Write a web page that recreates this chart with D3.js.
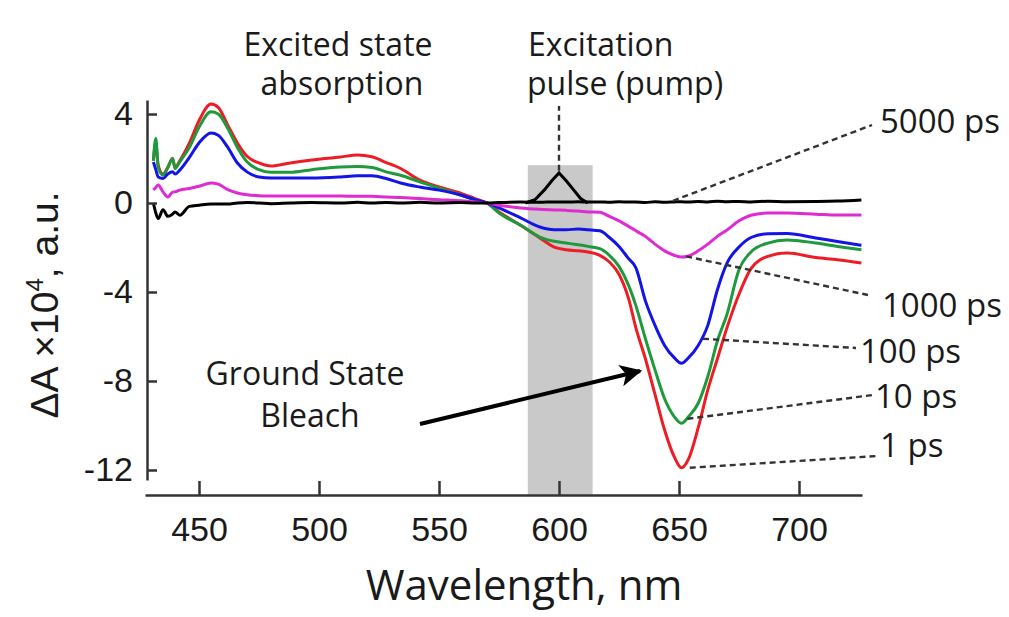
<!DOCTYPE html>
<html>
<head>
<meta charset="utf-8">
<script src="https://d3js.org/d3.v7.min.js"></script>
<style>
  body { margin: 0; background: #fff; }
  .tick text { fill: #1a1a1a; font-family: "Liberation Sans", Arial, sans-serif; }
  .note { fill: #1a1a1a; font-family: "Open Sans", "Noto Sans", sans-serif; }
</style>
</head>
<body>
<div id="chart"></div>
<script>
// wavelength grid (nm) shared by all transient spectra
var wavelengths = [431, 432, 433, 435, 437, 439, 440, 442, 446, 450, 455, 458, 462, 466, 470, 475, 480, 488, 497, 509,
  516, 522, 528, 534, 542, 550, 559, 565, 570, 575, 584, 592, 598, 603, 608, 612, 617, 621, 625, 629,
  632, 636, 640, 644, 648, 651, 654, 658, 662, 666, 670, 675, 680, 687, 695, 707, 716, 726];

// delta A x 10^4 for each delay
var ps1 = [1.9, 2.7, 1.7, 1.3, 1.6, 2.0, 1.6, 1.9, 2.7, 3.7, 4.45, 4.3, 3.5, 2.7, 2.1, 1.8, 1.66, 1.8, 1.93, 2.07,
  2.16, 2.08, 1.82, 1.55, 1.03, 0.72, 0.44, 0.2, 0.0, -0.4, -1.0, -1.57, -1.98, -2.1, -2.15, -2.2, -2.35, -2.65, -3.2, -4.3,
  -5.6, -7.0, -8.6, -10.2, -11.4, -11.9, -11.5, -10.1, -8.4, -7.0, -5.6, -4.1, -2.95, -2.4, -2.25, -2.45, -2.55, -2.7];
var ps10 = [1.9, 2.9, 1.6, 1.25, 1.6, 2.0, 1.55, 1.85, 2.5, 3.4, 4.1, 4.0, 3.35, 2.5, 1.85, 1.5, 1.38, 1.38, 1.5, 1.62,
  1.64, 1.6, 1.4, 1.25, 0.95, 0.67, 0.36, 0.15, 0.0, -0.45, -1.0, -1.53, -1.72, -1.8, -1.88, -1.95, -2.05, -2.35, -2.85, -3.7,
  -4.6, -6.1, -7.5, -8.8, -9.6, -9.9, -9.6, -9.0, -7.8, -6.2, -5.0, -3.0, -2.2, -1.8, -1.66, -1.8, -1.95, -2.1];
var ps100 = [1.84, 1.5, 1.17, 1.1, 1.3, 1.4, 1.3, 1.48, 2.05, 2.7, 3.15, 3.05, 2.5, 1.8, 1.4, 1.17, 1.12, 1.12, 1.12, 1.17,
  1.22, 1.22, 1.1, 0.9, 0.72, 0.58, 0.36, 0.15, 0.0, -0.22, -0.67, -1.08, -1.2, -1.2, -1.17, -1.2, -1.25, -1.55, -1.95, -2.5,
  -2.9, -4.4, -5.5, -6.4, -6.95, -7.2, -6.95, -6.4, -5.5, -3.9, -2.7, -1.98, -1.55, -1.38, -1.37, -1.57, -1.73, -1.9];
var ps1000 = [0.58, 0.7, 0.81, 0.5, 0.27, 0.49, 0.5, 0.58, 0.65, 0.75, 0.9, 0.85, 0.6, 0.45, 0.37, 0.33, 0.31, 0.31, 0.31, 0.31,
  0.3, 0.3, 0.27, 0.25, 0.2, 0.15, 0.1, 0.05, 0.0, -0.1, -0.22, -0.28, -0.31, -0.33, -0.36, -0.4, -0.42, -0.6, -0.8, -1.05,
  -1.25, -1.5, -1.85, -2.15, -2.35, -2.43, -2.38, -2.15, -1.85, -1.5, -1.21, -0.8, -0.55, -0.45, -0.45, -0.5, -0.54, -0.54];
var ps5000 = [0.0, -0.45, -0.7, -0.3, -0.6, -0.5, -0.4, -0.55, -0.15, -0.1, -0.05, -0.05, -0.05, 0.0, 0.02, 0.0, -0.03, 0.0, 0.02, 0.0,
  0.03, 0.0, 0.02, 0.0, 0.03, 0.0, 0.02, 0.0, 0.0, 0.02, 0.04, 0.03, 0.05, 0.04, 0.06, 0.04, 0.05, 0.03, 0.06, 0.04,
  0.05, 0.02, 0.06, 0.03, 0.05, 0.06, 0.04, 0.07, 0.05, 0.08, 0.06, 0.07, 0.05, 0.08, 0.06, 0.07, 0.09, 0.14];

// pump pulse spectrum and its band
var pumpWl = [586, 590, 594, 597, 600, 603, 606, 609, 612];
var pumpVal = [0, 0.15, 0.6, 1.0, 1.35, 1.0, 0.6, 0.2, 0];
var pumpBand = [587, 614];
var pumpBandTop = 1.7;

var xTicks = [450, 500, 550, 600, 650, 700];
var yTicks = [4, 0, -4, -8, -12];

var series = [
  { name: "1 ps", values: ps1, color: "#ee1c24" },
  { name: "10 ps", values: ps10, color: "#1e9a3c" },
  { name: "100 ps", values: ps100, color: "#1414e6" },
  { name: "1000 ps", values: ps1000, color: "#e02ad2" },
  { name: "5000 ps", values: ps5000, color: "#000000" }
];

var W = 1009, H = 617;
var svg = d3.select("#chart").append("svg")
  .attr("width", W).attr("height", H);

var x = d3.scaleLinear().domain([427.5, 726.25]).range([145, 862]);
var y = d3.scaleLinear().domain([-12.45, 4.63]).range([480, 100]);

// pump band
svg.append("rect")
  .attr("x", x(pumpBand[0]))
  .attr("y", y(pumpBandTop))
  .attr("width", x(pumpBand[1]) - x(pumpBand[0]))
  .attr("height", 495 - y(pumpBandTop))
  .attr("fill", "#c9c9c9");

var line = d3.line()
  .x(function(d) { return x(d[0]); })
  .y(function(d) { return y(d[1]); })
  .curve(d3.curveMonotoneX);

series.forEach(function(s) {
  svg.append("path")
    .datum(wavelengths.map(function(w, i) { return [w, s.values[i]]; }))
    .attr("d", line)
    .attr("fill", "none")
    .attr("stroke", s.color)
    .attr("stroke-width", 3)
    .attr("stroke-linejoin", "round");
});

svg.append("path")
  .datum(pumpWl.map(function(w, i) { return [w, pumpVal[i]]; }))
  .attr("d", d3.line().x(function(d) { return x(d[0]); }).y(function(d) { return y(d[1]); }))
  .attr("fill", "none")
  .attr("stroke", "#000")
  .attr("stroke-width", 3);

// axes (detached, ticks inward)
var yAxis = svg.append("g")
  .attr("transform", "translate(147,0)")
  .call(d3.axisLeft(y).tickValues(yTicks).tickSize(-10).tickSizeOuter(0).tickPadding(14)
    .tickFormat(function(d) { return d; }));
var xAxis = svg.append("g")
  .attr("transform", "translate(0,495)")
  .call(d3.axisBottom(x).tickValues(xTicks).tickSize(-14).tickSizeOuter(0).tickPadding(22));

[yAxis, xAxis].forEach(function(g) {
  g.select(".domain").attr("stroke", "#333").attr("stroke-width", 2.5);
  g.selectAll(".tick line").attr("stroke", "#333").attr("stroke-width", 2.5);
  g.selectAll(".tick text").attr("font-size", 34).style("fill", "#1a1a1a");
});

// axis titles
svg.append("text")
  .attr("class", "note")
  .attr("x", 524).attr("y", 600)
  .attr("text-anchor", "middle")
  .attr("font-size", 42)
  .text("Wavelength, nm");

var yt = svg.append("text")
  .attr("transform", "translate(58,305) rotate(-90)")
  .attr("text-anchor", "middle")
  .attr("font-family", "'Liberation Sans', Arial, sans-serif")
  .attr("font-size", 39)
  .style("fill", "#1a1a1a");
yt.append("tspan").text("\u0394A \u00d710");
yt.append("tspan").attr("dy", -15).attr("font-size", 24).text("4");
yt.append("tspan").attr("dy", 15).text(", a.u.");

// top annotations
var notes = [
  { t: "Excited state", x: 338, y: 56, a: "middle" },
  { t: "absorption", x: 342, y: 95, a: "middle" },
  { t: "Excitation", x: 528, y: 56, a: "start" },
  { t: "pulse (pump)", x: 527, y: 95, a: "start" },
  { t: "Ground State", x: 305, y: 385, a: "middle" },
  { t: "Bleach", x: 310, y: 427, a: "middle" }
];
notes.forEach(function(n) {
  svg.append("text").attr("class", "note")
    .attr("x", n.x).attr("y", n.y).attr("text-anchor", n.a)
    .attr("font-size", 32).text(n.t);
});

// delay labels with dashed leaders: start on the curve (data units), end in pixels
var leaders = [
  { t: "5000 ps", from: [647.5, 0.1], to: [872, 125], tx: 880, ty: 133 },
  { t: "1000 ps", from: [653, -2.4], to: [868, 295], tx: 882, ty: 317 },
  { t: "100 ps", from: [660, -6.1], to: [856, 348], tx: 860, ty: 363 },
  { t: "10 ps", from: [653.5, -9.7], to: [873, 395], tx: 875, ty: 408 },
  { t: "1 ps", from: [654.5, -11.9], to: [877, 456], tx: 880, ty: 457 }
];
leaders.forEach(function(l) {
  svg.append("line")
    .attr("x1", x(l.from[0])).attr("y1", y(l.from[1]))
    .attr("x2", l.to[0]).attr("y2", l.to[1])
    .attr("stroke", "#333").attr("stroke-width", 2.4)
    .attr("stroke-dasharray", "6,4");
  svg.append("text").attr("class", "note")
    .attr("x", l.tx).attr("y", l.ty)
    .attr("font-size", 33).text(l.t);
});

// pump leader
svg.append("line")
  .attr("x1", x(600)).attr("y1", y(1.45))
  .attr("x2", x(600)).attr("y2", 106)
  .attr("stroke", "#333").attr("stroke-width", 2.4)
  .attr("stroke-dasharray", "6,4");

// ground state bleach arrow
svg.append("defs").append("marker")
  .attr("id", "head")
  .attr("viewBox", "0 0 10 10")
  .attr("refX", 9).attr("refY", 5)
  .attr("markerUnits", "userSpaceOnUse")
  .attr("orient", "auto")
  .attr("markerWidth", 30).attr("markerHeight", 22)
  .append("path").attr("d", "M0,0 L10,5 L0,10 L2.5,5 Z").attr("fill", "#000");
svg.append("line")
  .attr("x1", 420).attr("y1", 424)
  .attr("x2", 640).attr("y2", 371)
  .attr("stroke", "#000").attr("stroke-width", 4)
  .attr("marker-end", "url(#head)");
</script>
</body>
</html>
